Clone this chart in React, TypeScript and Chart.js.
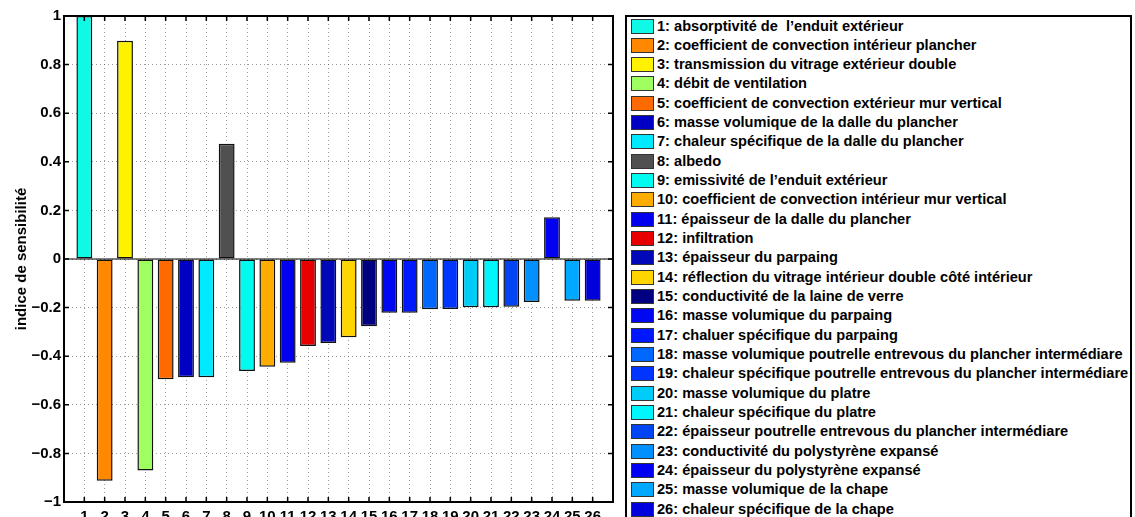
import React, { useEffect, useRef } from "react";
import { Chart, registerables } from "chart.js";

Chart.register(...registerables);

// ---- data ----
const categories = [1, 2, 3, 4, 5, 6, 7, 8, 9, 10, 11, 12, 13, 14, 15, 16, 17, 18, 19, 20, 21, 22, 23, 24, 25, 26];

const sensitivity = [
  1.0, -0.913, 0.898, -0.87, -0.495, -0.487, -0.487, 0.474, -0.461, -0.443,
  -0.427, -0.358, -0.346, -0.322, -0.277, -0.221, -0.221, -0.207, -0.206, -0.199,
  -0.199, -0.197, -0.177, 0.172, -0.172, -0.172,
];

const parameterNames = [
  "1: absorptivité de  l’enduit extérieur",
  "2: coefficient de convection intérieur plancher",
  "3: transmission du vitrage extérieur double",
  "4: débit de ventilation",
  "5: coefficient de convection extérieur mur vertical",
  "6: masse volumique de la dalle du plancher",
  "7: chaleur spécifique de la dalle du plancher",
  "8: albedo",
  "9: emissivité de l’enduit extérieur",
  "10: coefficient de convection intérieur mur vertical",
  "11: épaisseur de la dalle du plancher",
  "12: infiltration",
  "13: épaisseur du parpaing",
  "14: réflection du vitrage intérieur double côté intérieur",
  "15: conductivité de la laine de verre",
  "16: masse volumique du parpaing",
  "17: chaluer spécifique du parpaing",
  "18: masse volumique poutrelle entrevous du plancher intermédiare",
  "19: chaleur spécifique poutrelle entrevous du plancher intermédiare",
  "20: masse volumique du platre",
  "21: chaleur spécifique du platre",
  "22: épaisseur poutrelle entrevous du plancher intermédiare",
  "23: conductivité du polystyrène expansé",
  "24: épaisseur du polystyrène expansé",
  "25: masse volumique de la chape",
  "26: chaleur spécifique de la chape",
];

const yTickValues = [-1, -0.8, -0.6, -0.4, -0.2, 0, 0.2, 0.4, 0.6, 0.8, 1];

const yAxisTitle = "indice de sensibilité";

// ---- styles ----
const barColors = [
  "#10f8e6", "#ff8800", "#fff200", "#a0ff60", "#ff6a00", "#0000c4", "#00eaff", "#505050",
  "#00fcee", "#ffac00", "#0000ee", "#e80000", "#0008b8", "#ffd500", "#000080", "#0008f2",
  "#0018ff", "#0068ff", "#0034ff", "#00ccf8", "#00f6fc", "#0044f4", "#0090ff", "#0000f2",
  "#00a8ff", "#0000dc",
];

const FONT = '"Liberation Sans", Arial, Helvetica, sans-serif';

function fmtTick(v: number): string {
  const r = Math.round(v * 10) / 10;
  if (r === 0) return "0";
  const s = Math.abs(r).toString();
  return r < 0 ? "\u2212" + s : s;
}

const framePlugin = {
  id: "matlabFrame",
  afterDatasetsDraw(chart: any) {
    const { ctx, chartArea, scales } = chart;
    const y0 = scales.y.getPixelForValue(0);
    ctx.save();
    ctx.strokeStyle = "#000";
    ctx.lineWidth = 1;
    ctx.beginPath();
    ctx.moveTo(chartArea.left, y0);
    ctx.lineTo(chartArea.right, y0);
    ctx.stroke();
    ctx.restore();
  },
  afterDraw(chart: any) {
    const { ctx, chartArea, scales } = chart;
    const { left, top, right, bottom } = chartArea;
    ctx.save();
    ctx.strokeStyle = "#000";
    ctx.lineWidth = 1.5;
    ctx.beginPath();
    for (const c of categories) {
      const px = scales.x.getPixelForValue(c);
      ctx.moveTo(px, bottom);
      ctx.lineTo(px, bottom - 5);
      ctx.moveTo(px, top);
      ctx.lineTo(px, top + 5);
    }
    for (const v of yTickValues) {
      const py = scales.y.getPixelForValue(v);
      ctx.moveTo(left, py);
      ctx.lineTo(left + 5, py);
      ctx.moveTo(right, py);
      ctx.lineTo(right - 5, py);
    }
    ctx.stroke();
    ctx.lineWidth = 2;
    ctx.strokeRect(left, top, right - left, bottom - top);
    ctx.restore();
  },
};

export default function App() {
  const canvasRef = useRef<HTMLCanvasElement | null>(null);

  useEffect(() => {
    if (!canvasRef.current) return;
    const chart = new Chart(canvasRef.current, {
      type: "bar",
      data: {
        datasets: [
          {
            data: categories.map((c, i) => ({ x: c, y: sensitivity[i] })),
            backgroundColor: barColors,
            borderColor: "#111",
            borderWidth: 1.5,
            borderSkipped: false,
            barPercentage: 0.78,
            categoryPercentage: 1,
          },
        ],
      },
      options: {
        animation: false,
        responsive: false,
        devicePixelRatio: 1,
        layout: { padding: { top: 16, right: 7, left: 0, bottom: 0 } },
        plugins: { legend: { display: false }, tooltip: { enabled: false } },
        scales: {
          x: {
            type: "linear",
            min: 0,
            max: 27,
            offset: false,
            afterBuildTicks: (scale: any) => {
              scale.ticks = categories.map((c) => ({ value: c }));
            },
            afterFit: (scale: any) => {
              scale.height = 15;
            },
            grid: {
              offset: false,
              color: "rgba(0,0,0,0.38)",
              lineWidth: 1,
              drawTicks: false,
            },
            border: { display: false, dash: [1, 3] },
            ticks: {
              autoSkip: false,
              maxRotation: 0,
              padding: 6,
              color: "#000",
              font: { family: FONT, size: 15, weight: "bold" },
              callback: (v: any) => String(v),
            },
          },
          y: {
            type: "linear",
            min: -1,
            max: 1,
            afterBuildTicks: (scale: any) => {
              scale.ticks = yTickValues.map((v) => ({ value: v }));
            },
            afterFit: (scale: any) => {
              scale.width = 64;
            },
            grid: {
              color: "rgba(0,0,0,0.38)",
              lineWidth: 1,
              drawTicks: false,
            },
            border: { display: false, dash: [1, 3] },
            ticks: {
              padding: 3,
              color: "#000",
              font: { family: FONT, size: 15, weight: "bold" },
              callback: (v: any) => fmtTick(Number(v)),
            },
            title: {
              display: true,
              text: yAxisTitle,
              color: "#000",
              padding: { top: 13, bottom: 0 },
              font: { family: FONT, size: 15, weight: "bold" },
            },
          },
        },
      },
      plugins: [framePlugin],
    } as any);
    return () => chart.destroy();
  }, []);

  return (
    <div
      style={{
        position: "fixed",
        left: 0,
        top: 0,
        width: 1135,
        height: 517,
        background: "#fff",
        overflow: "hidden",
      }}
    >
      <canvas
        ref={canvasRef}
        width={620}
        height={517}
        style={{ position: "absolute", left: 0, top: 0, width: 620, height: 517 }}
      />
      <div
        style={{
          position: "absolute",
          left: 625,
          top: 15,
          width: 507,
          height: 520,
          border: "2px solid #000",
          boxSizing: "border-box",
          background: "#fff",
        }}
      >
        {parameterNames.map((name, i) => (
          <div
            key={name}
            style={{
              position: "absolute",
              left: 4,
              top: 0.5 + i * 19.32,
              height: 17,
              display: "flex",
              alignItems: "center",
            }}
          >
            <span
              style={{
                display: "inline-block",
                width: 23,
                height: 15,
                background: barColors[i],
                border: "1px solid #333",
                boxSizing: "border-box",
                flex: "none",
              }}
            />
            <span
              style={{
                marginLeft: 3,
                font: `bold 14.6px ${FONT}`,
                color: "#000",
                whiteSpace: "pre",
                lineHeight: "17px",
              }}
            >
              {name}
            </span>
          </div>
        ))}
      </div>
    </div>
  );
}
